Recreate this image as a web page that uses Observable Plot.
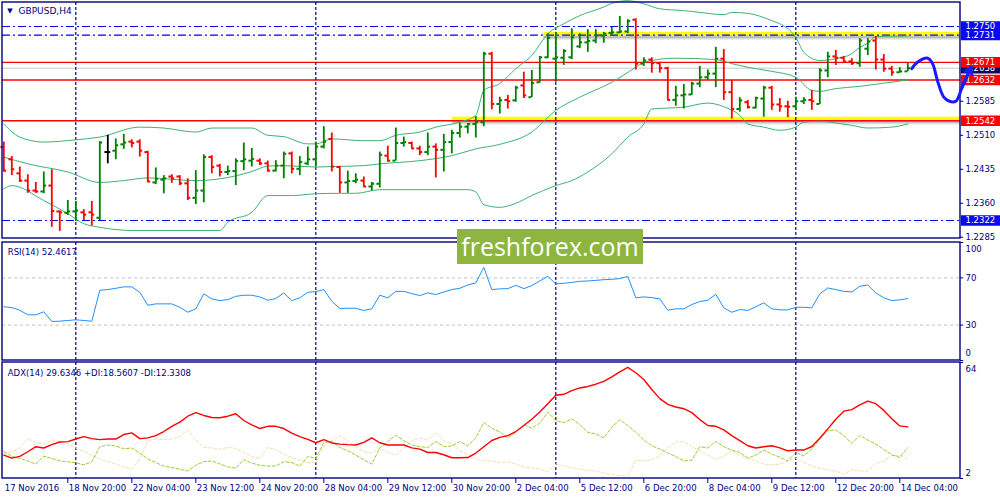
<!DOCTYPE html>
<html><head><meta charset="utf-8">
<script src="https://cdn.jsdelivr.net/npm/d3@7"></script>
<script src="https://cdn.jsdelivr.net/npm/@observablehq/plot@0.6"></script>
<style>
html,body{margin:0;padding:0;background:#fff;overflow:hidden;}
#wrap{position:relative;width:1000px;height:500px;}
#wrap svg{display:block;}
#wm{position:absolute;left:457px;top:229px;width:186px;height:35px;background:#8db540;color:#fff;font-family:"Open Sans",sans-serif;font-size:25px;line-height:35px;text-align:center;}
</style></head><body><div id="wrap"></div>
<script>
// ---------- DATA ----------
const symbolTitle = "GBPUSD,H4";
const rsiTitle = "RSI(14) 52.4617";
const adxTitle = "ADX(14) 29.6346 +DI:18.5607 -DI:12.3308";
const watermark = "freshforex.com";

const open = [1.2484,1.2457,1.2426,1.2410,1.2388,1.2386,1.2399,1.2342,1.2339,1.2342,
1.2340,1.2340,1.2328,1.2473,1.2476,1.2490,1.2496,1.2496,1.2473,1.2406,
1.2412,1.2419,1.2419,1.2404,1.2372,1.2388,1.2462,1.2443,1.2429,1.2431,
1.2453,1.2454,1.2454,1.2448,1.2432,1.2443,1.2470,1.2436,1.2448,1.2457,
1.2485,1.2502,1.2440,1.2406,1.2409,1.2410,1.2397,1.2403,1.2465,1.2454,
1.2493,1.2493,1.2481,1.2473,1.2485,1.2478,1.2495,1.2515,1.2529,1.2535,
1.2539,1.2690,1.2579,1.2588,1.2587,1.2620,1.2594,1.2627,1.2682,1.2679,
1.2681,1.2682,1.2706,1.2715,1.2719,1.2730,1.2736,1.2737,1.2739,1.2765,
1.2668,1.2677,1.2669,1.2658,1.2588,1.2598,1.2600,1.2624,1.2638,1.2646,
1.2679,1.2605,1.2568,1.2583,1.2571,1.2591,1.2615,1.2578,1.2574,1.2574,
1.2585,1.2588,1.2579,1.2653,1.2684,1.2681,1.2673,1.2669,1.2701,1.2719,
1.2677,1.2657,1.2649,1.2651];
const high = [1.2495,1.2463,1.2440,1.2423,1.2406,1.2429,1.2434,1.2343,1.2366,1.2364,
1.2346,1.2364,1.2496,1.2510,1.2502,1.2512,1.2500,1.2500,1.2475,1.2438,
1.2421,1.2423,1.2421,1.2414,1.2432,1.2467,1.2465,1.2446,1.2442,1.2458,
1.2493,1.2481,1.2458,1.2453,1.2454,1.2473,1.2473,1.2463,1.2484,1.2495,
1.2529,1.2515,1.2441,1.2431,1.2425,1.2418,1.2406,1.2473,1.2486,1.2526,
1.2506,1.2495,1.2486,1.2515,1.2491,1.2512,1.2521,1.2537,1.2535,1.2551,
1.2693,1.2693,1.2594,1.2598,1.2618,1.2649,1.2653,1.2684,1.2734,1.2737,
1.2699,1.2745,1.2734,1.2743,1.2743,1.2737,1.2748,1.2772,1.2765,1.2767,
1.2681,1.2681,1.2671,1.2660,1.2618,1.2622,1.2627,1.2662,1.2654,1.2704,
1.2699,1.2631,1.2593,1.2587,1.2594,1.2618,1.2618,1.2591,1.2585,1.2594,
1.2593,1.2609,1.2657,1.2693,1.2697,1.2684,1.2679,1.2723,1.2723,1.2728,
1.2688,1.2662,1.2659,1.2669];
const low = [1.2429,1.2421,1.2406,1.2382,1.2382,1.2381,1.2307,1.2298,1.2333,1.2320,
1.2322,1.2310,1.2322,1.2447,1.2456,1.2479,1.2482,1.2462,1.2406,1.2401,
1.2381,1.2404,1.2399,1.2366,1.2357,1.2361,1.2425,1.2418,1.2421,1.2399,
1.2432,1.2440,1.2443,1.2429,1.2429,1.2414,1.2425,1.2421,1.2443,1.2440,
1.2480,1.2429,1.2382,1.2382,1.2403,1.2396,1.2387,1.2394,1.2451,1.2453,
1.2484,1.2480,1.2465,1.2465,1.2416,1.2429,1.2469,1.2504,1.2513,1.2504,
1.2529,1.2566,1.2557,1.2568,1.2583,1.2591,1.2593,1.2625,1.2679,1.2627,
1.2664,1.2677,1.2701,1.2693,1.2712,1.2713,1.2730,1.2734,1.2734,1.2654,
1.2662,1.2647,1.2647,1.2587,1.2574,1.2568,1.2598,1.2615,1.2631,1.2615,
1.2587,1.2546,1.2561,1.2568,1.2568,1.2550,1.2565,1.2561,1.2549,1.2565,
1.2578,1.2565,1.2578,1.2637,1.2664,1.2668,1.2664,1.2660,1.2686,1.2654,
1.2649,1.2640,1.2647,1.2650];
const close = [1.2432,1.2435,1.2410,1.2388,1.2386,1.2399,1.2343,1.2340,1.2342,1.2344,
1.2335,1.2335,1.2494,1.2473,1.2488,1.2494,1.2493,1.2476,1.2408,1.2414,
1.2415,1.2415,1.2404,1.2372,1.2388,1.2462,1.2440,1.2429,1.2431,1.2453,
1.2457,1.2458,1.2448,1.2432,1.2443,1.2469,1.2436,1.2451,1.2457,1.2485,
1.2496,1.2441,1.2406,1.2409,1.2412,1.2397,1.2403,1.2467,1.2454,1.2493,
1.2495,1.2481,1.2473,1.2485,1.2478,1.2495,1.2515,1.2529,1.2535,1.2539,
1.2690,1.2579,1.2587,1.2585,1.2615,1.2598,1.2625,1.2682,1.2725,1.2682,
1.2696,1.2726,1.2715,1.2718,1.2730,1.2734,1.2737,1.2739,1.2762,1.2668,
1.2675,1.2669,1.2658,1.2588,1.2598,1.2600,1.2624,1.2638,1.2646,1.2679,
1.2605,1.2568,1.2587,1.2572,1.2592,1.2615,1.2578,1.2574,1.2573,1.2585,
1.2588,1.2585,1.2653,1.2684,1.2681,1.2673,1.2669,1.2719,1.2717,1.2677,
1.2657,1.2649,1.2651,1.2658];

// Bollinger bands (bar index, price)
const bbUpperIdx = [0,2,5,9,12,17,20,24,26,31,33,35,38,39,41,45,47,49,52,54,57,59,60,62,64,66,68,70,72,75,76,78,80,82,85,88,90,91,93,96,97,99,100,102,104,106,107,108,109,113];
const bbUpper = [1.2535,1.2506,1.2495,1.2500,1.2506,1.2528,1.2526,1.2517,1.2526,1.2526,1.2510,1.2507,1.2491,1.2491,1.2502,1.2498,1.2498,1.2510,1.2517,1.2528,1.2539,1.2554,1.2609,1.2624,1.2657,1.2686,1.2734,1.2756,1.2774,1.2793,1.2801,1.2807,1.2800,1.2789,1.2785,1.2779,1.2776,1.2781,1.2779,1.2763,1.2756,1.2726,1.2693,1.2675,1.2679,1.2690,1.2704,1.2713,1.2728,1.2729];
const bbMidIdx = [0,3,8,12,15,18,24,27,31,33,35,39,41,45,47,52,56,59,62,66,69,72,76,79,80,84,89,91,93,96,99,101,102,104,107,110,113];
const bbMid = [1.2462,1.2447,1.2429,1.2406,1.2410,1.2416,1.2410,1.2414,1.2430,1.2442,1.2443,1.2440,1.2441,1.2443,1.2447,1.2454,1.2465,1.2480,1.2490,1.2517,1.2565,1.2594,1.2627,1.2660,1.2671,1.2680,1.2677,1.2668,1.2660,1.2651,1.2638,1.2609,1.2607,1.2613,1.2618,1.2625,1.2632];
const bbLowIdx = [0,1,5,8,10,12,16,22,27,28,31,33,36,39,42,44,47,54,58,59,60,62,64,66,69,71,73,76,78,80,81,85,88,90,92,93,95,97,99,100,102,104,106,108,111,113];
const bbLow = [1.2392,1.2399,1.2366,1.2337,1.2315,1.2307,1.2300,1.2300,1.2300,1.2318,1.2340,1.2377,1.2377,1.2381,1.2382,1.2382,1.2390,1.2390,1.2390,1.2385,1.2357,1.2351,1.2360,1.2377,1.2399,1.2410,1.2429,1.2469,1.2506,1.2535,1.2568,1.2572,1.2581,1.2573,1.2554,1.2535,1.2528,1.2521,1.2528,1.2539,1.2541,1.2537,1.2532,1.2526,1.2528,1.2535];

// horizontal levels
const blueLevels = [1.2750, 1.2731, 1.2322];
const redLevels = [1.2671, 1.2632, 1.2542];
const bidPrice = 1.2658;
// highlighted zones (start bar, low, high)
const zoneFrom = [67.5, 56.1];
const zoneLow = [1.2728, 1.2541];
const zoneHigh = [1.2737, 1.2550];

// forecast sketch (bar index, price)
const fcIdx = [113.5, 114.2, 115.5, 116.1, 116.7, 117.5, 118.2, 119.0, 119.8, 120.9];
const fcPrice = [1.2657, 1.2671, 1.2680, 1.2668, 1.2631, 1.2594, 1.2585, 1.2585, 1.2616, 1.2660];

const priceTicks = [1.2285, 1.2360, 1.2435, 1.2510, 1.2585];

const rsi = [45.5,44.9,42.6,38.7,38.7,41.3,33.1,33.3,33.9,34.5,
33.9,33.3,59.5,60.1,61.2,62.4,62.4,57.8,46.8,48.0,
48.0,48.0,45.1,40.9,43.8,56.5,52.2,50.8,51.6,54.4,
55.3,55.3,53.9,51.1,52.5,57.3,50.8,53.1,57.8,58.4,
60.1,50.2,44.1,44.3,44.3,42.4,43.8,55.3,53.1,58.6,
58.6,56.7,55.0,57.3,55.9,58.1,60.1,61.2,64.0,65.7,
78.9,60.1,60.7,60.9,63.7,60.9,63.5,67.4,71.3,64.9,
65.4,66.2,67.1,67.4,67.9,68.5,68.8,69.4,71.3,53.1,
53.9,53.3,52.2,42.6,43.8,43.8,47.4,50.0,51.1,56.1,
44.6,40.9,43.2,42.4,45.5,48.9,43.8,42.9,42.9,45.1,
45.1,44.6,56.5,61.5,60.1,58.6,58.1,62.9,64.0,57.3,
53.1,50.8,51.4,52.5];
const rsiLevels = [30, 70];
const rsiTicks = [0, 30, 70, 100];

const adx = [14.5,12.9,13.8,16.3,19.0,18.3,20.1,21.5,21.7,23.1,
24.4,23.3,22.8,23.1,23.1,25.5,26.4,23.3,23.7,24.9,
27.1,29.9,32.1,35.3,37.2,35.7,34.6,34.5,35.3,36.6,
33.0,30.7,28.7,29.9,29.9,28.7,26.2,24.4,22.9,21.1,
22.8,21.0,20.4,20.1,19.9,21.3,23.7,21.1,19.9,19.9,
19.9,18.4,17.7,15.9,15.9,14.7,13.1,13.1,13.2,15.6,
19.0,22.3,24.0,24.9,27.1,30.3,33.7,37.5,42.0,46.5,
47.0,49.0,50.4,51.2,52.4,53.9,56.3,59.0,61.4,58.5,
54.9,49.6,44.7,41.6,40.2,39.3,37.2,33.5,30.3,29.9,
28.0,24.9,22.2,19.5,18.3,19.0,19.5,18.4,16.8,17.2,
17.2,19.1,23.5,28.5,33.7,38.0,38.8,41.3,43.4,42.0,
38.4,33.9,30.1,29.6];
const plusDI = [16.5,13.8,12.7,11.4,9.7,14.0,12.7,11.4,10.9,10.4,
9.3,10.9,19.0,19.9,19.4,17.9,18.3,15.6,12.4,10.5,
8.6,7.8,7.0,6.0,9.1,11.0,11.4,9.8,8.2,7.5,
12.1,10.2,9.1,8.6,8.7,11.0,10.5,8.6,13.8,12.7,
21.3,21.8,18.6,16.8,14.5,12.0,9.7,18.3,21.8,25.1,
22.2,19.9,19.0,18.6,21.8,19.0,19.4,21.7,19.5,23.7,
31.9,28.9,26.9,23.7,26.7,30.7,28.9,31.6,37.5,33.0,
31.8,33.9,30.8,26.7,25.8,23.7,29.4,33.4,30.3,26.7,
22.6,19.5,17.7,15.6,13.8,11.4,11.8,19.0,18.3,21.8,
19.0,17.2,15.9,12.9,14.5,17.2,15.1,13.4,11.4,15.9,
14.1,17.7,23.1,27.6,28.0,24.9,20.8,24.9,22.6,20.4,
17.5,14.7,13.2,18.5];
const minusDI = [15.1,16.3,18.3,23.1,21.3,20.4,22.6,21.8,20.4,18.3,
16.5,14.5,12.4,11.0,9.7,8.2,7.0,12.4,22.2,23.1,
22.8,23.1,24.4,28.0,22.6,18.6,18.3,17.7,18.6,18.1,
15.9,13.6,12.7,18.6,17.4,15.1,13.2,11.8,10.5,10.5,
19.5,22.2,24.8,22.2,19.0,16.5,15.4,18.3,15.9,14.5,
18.3,22.2,23.7,22.6,26.7,22.2,20.4,16.8,14.7,12.7,
11.4,11.4,10.5,10.9,9.7,8.2,7.7,7.1,5.5,9.7,
8.7,7.8,7.0,6.4,5.9,5.0,4.1,3.5,3.4,11.8,
11.4,12.0,14.0,18.3,21.7,21.7,19.0,16.8,14.5,12.1,
14.1,16.8,14.7,12.5,11.4,9.7,9.3,9.7,11.4,12.9,
10.5,8.7,7.5,6.6,6.0,4.3,6.8,6.0,6.0,10.0,
11.4,14.3,14.3,12.3];
const adxTicks = [2, 64];

const separators = [9, 39, 69, 99];
const xLabelIdx = [0,8,16,24,32,40,48,56,64,72,80,88,96,104,112];
const xLabels = ["17 Nov 2016","18 Nov 20:00","22 Nov 04:00","23 Nov 12:00","24 Nov 20:00","28 Nov 04:00","29 Nov 12:00","30 Nov 20:00","2 Dec 04:00","5 Dec 12:00","6 Dec 20:00","8 Dec 04:00","9 Dec 12:00","12 Dec 20:00","14 Dec 04:00"];

// ---------- VIEW SETTINGS ----------
const FONT = "DejaVu Sans, Verdana, sans-serif";
const NAVY = "#000080";
const X_MIN = -0.1625, X_MAX = 124.5875, AXIS_I = 119.5875;
const TICK = 0.36, TICK_OUT = 0.4;
const PRICE_DOMAIN = [1.228229, 1.280292];
const baseStyle = {fontFamily: FONT, fontSize: "8.5px", color: NAVY, background: "transparent", overflow: "hidden"};

const bars = open.map((o, i) => ({i, o, h: high[i], l: low[i], c: close[i]}));
const barColor = d => d.c > d.o ? "#008000" : d.c < d.o ? "#ff0000" : "#000000";
const pts = (xs, ys) => xs.map((x, k) => ({x, y: ys[k]}));
const zones = zoneFrom.map((f, k) => ({from: f, lo: zoneLow[k], hi: zoneHigh[k]}));
const fc = pts(fcIdx, fcPrice);
const tags = [
  ...blueLevels.map(p => ({p, bg: "#0a0af0"})),
  {p: bidPrice, bg: "#0c0c5e"},
  ...redLevels.map(p => ({p, bg: "#ff0000"}))
];

const frameRect = (y0, y1) => Plot.rect([0], {x1: X_MIN, x2: AXIS_I, y1: y0, y2: y1, fill: "none", stroke: NAVY, strokeWidth: 1.4});

// ---------- MAIN PANEL ----------
const main = Plot.plot({
  width: 1000, height: 240, marginLeft: 2, marginRight: 0, marginTop: 2, marginBottom: 2,
  x: {domain: [X_MIN, X_MAX], axis: null},
  y: {domain: PRICE_DOMAIN, axis: null},
  color: {type: "identity"},
  style: baseStyle,
  marks: [
    Plot.rect(zones, {x1: "from", x2: AXIS_I, y1: "lo", y2: "hi", fill: "url(#zshade)", dy: 4.5}),
    Plot.rect(zones, {x1: "from", x2: AXIS_I, y1: "lo", y2: "hi", fill: "#ffff00"}),
    Plot.ruleY([bidPrice], {x1: X_MIN, x2: AXIS_I, stroke: "#c8c8c8"}),
    Plot.ruleY(redLevels, {x1: X_MIN, x2: AXIS_I, stroke: "#ff0000", strokeWidth: 1.3}),
    Plot.ruleY(blueLevels, {x1: X_MIN, x2: AXIS_I, stroke: "#0000ff", strokeWidth: 1.1, strokeDasharray: "8,3,2,3"}),
    Plot.ruleX(separators, {stroke: NAVY, strokeWidth: 1.2, strokeDasharray: "3,2"}),
    Plot.line(pts(bbUpperIdx, bbUpper), {x: "x", y: "y", stroke: "#3cb371", strokeWidth: 1, curve: "monotone-x"}),
    Plot.line(pts(bbMidIdx, bbMid), {x: "x", y: "y", stroke: "#3cb371", strokeWidth: 1, curve: "monotone-x"}),
    Plot.line(pts(bbLowIdx, bbLow), {x: "x", y: "y", stroke: "#3cb371", strokeWidth: 1, curve: "monotone-x"}),
    Plot.ruleX(bars, {x: "i", y1: "l", y2: "h", stroke: barColor, strokeWidth: 1.8}),
    Plot.ruleY(bars, {y: "o", x1: d => d.i - TICK, x2: "i", stroke: barColor, strokeWidth: 2}),
    Plot.ruleY(bars, {y: "c", x1: "i", x2: d => d.i + TICK, stroke: barColor, strokeWidth: 2}),
    frameRect(PRICE_DOMAIN[0], PRICE_DOMAIN[1]),
    Plot.ruleY(priceTicks, {x1: AXIS_I, x2: AXIS_I + TICK_OUT, stroke: NAVY}),
    Plot.text(priceTicks, {x: AXIS_I, y: d => d, text: d => d.toFixed(4), dx: 5, textAnchor: "start", fill: NAVY}),
    ...tags.flatMap(t => [
      Plot.ruleY([t], {y: "p", x1: AXIS_I + 0.12, x2: X_MAX, stroke: "bg", strokeWidth: 10.5}),
      Plot.text([t], {x: AXIS_I, y: "p", text: d => d.p.toFixed(4), dx: 5, textAnchor: "start", fill: "#ffffff"})
    ]),
    Plot.line(fc, {x: "x", y: "y", stroke: "#1a1aff", strokeWidth: 3, curve: "catmull-rom"}),
    Plot.arrow([{a: fc[fc.length - 2], b: fc[fc.length - 1]}], {x1: d => d.a.x, y1: d => d.a.y, x2: d => d.b.x, y2: d => d.b.y, stroke: "#1a1aff", strokeWidth: 3, headLength: 11}),
    Plot.text(["▼"], {frameAnchor: "top-left", dx: 7.5, dy: 8.5, fontSize: 7, textAnchor: "middle", lineAnchor: "middle", fill: NAVY}),
    Plot.text([symbolTitle], {frameAnchor: "top-left", dx: 16, dy: 9, fontSize: 9, textAnchor: "start", lineAnchor: "middle", fill: NAVY})
  ]
});
d3.select(main).insert("defs", ":first-child").html(
  '<linearGradient id="zshade" x1="0" y1="0" x2="0" y2="1"><stop offset="0" stop-color="#444" stop-opacity="0.55"/><stop offset="1" stop-color="#888" stop-opacity="0"/></linearGradient>');

// ---------- RSI PANEL ----------
const rsiPlot = Plot.plot({
  width: 1000, height: 121, marginLeft: 2, marginRight: 0, marginTop: 2, marginBottom: 1,
  x: {domain: [X_MIN, X_MAX], axis: null},
  y: {domain: [0, 100], axis: null},
  style: baseStyle,
  marks: [
    Plot.ruleY(rsiLevels, {x1: X_MIN, x2: AXIS_I, stroke: "#c0c0c0", strokeDasharray: "3,3"}),
    Plot.ruleX(separators, {stroke: NAVY, strokeWidth: 1.2, strokeDasharray: "3,2"}),
    Plot.line(rsi, {x: (d, i) => i, y: d => d, stroke: "#1e90ff", strokeWidth: 1}),
    frameRect(0, 100),
    Plot.ruleY(rsiTicks, {x1: AXIS_I, x2: AXIS_I + TICK_OUT, stroke: NAVY}),
    Plot.text(rsiTicks.filter(v => v > 0 && v < 100), {x: AXIS_I, y: d => d, text: d => String(d), dx: 5, textAnchor: "start", fill: NAVY}),
    Plot.text([100], {x: AXIS_I, y: d => d, text: d => String(d), dx: 5, dy: 7, textAnchor: "start", fill: NAVY}),
    Plot.text([0], {x: AXIS_I, y: d => d, text: d => String(d), dx: 5, dy: -7, textAnchor: "start", fill: NAVY}),
    Plot.text([rsiTitle], {frameAnchor: "top-left", dx: 5.3, dy: 9.8, textAnchor: "start", lineAnchor: "middle", fill: NAVY})
  ]
});

// ---------- ADX PANEL ----------
const adxPlot = Plot.plot({
  width: 1000, height: 139, marginLeft: 2, marginRight: 0, marginTop: 1, marginBottom: 22,
  x: {domain: [X_MIN, X_MAX], axis: "bottom", ticks: xLabelIdx.slice(1), tickSize: 5, tickFormat: () => "", label: null},
  y: {domain: [2, 64], axis: null},
  style: baseStyle,
  marks: [
    Plot.ruleX(separators, {stroke: NAVY, strokeWidth: 1.2, strokeDasharray: "3,2"}),
    Plot.line(minusDI, {x: (d, i) => i, y: d => d, stroke: "#f5deb3", strokeWidth: 1, strokeDasharray: "3,2"}),
    Plot.line(plusDI, {x: (d, i) => i, y: d => d, stroke: "#9acd32", strokeWidth: 1, strokeDasharray: "3,2"}),
    Plot.line(adx, {x: (d, i) => i, y: d => d, stroke: "#ff0000", strokeWidth: 1.4}),
    frameRect(2, 64),
    Plot.ruleY(adxTicks, {x1: AXIS_I, x2: AXIS_I + TICK_OUT, stroke: NAVY}),
    Plot.text([64], {x: AXIS_I, y: d => d, text: d => String(d), dx: 5, dy: 7, textAnchor: "start", fill: NAVY}),
    Plot.text([2], {x: AXIS_I, y: d => d, text: d => String(d), dx: 5, dy: -5, textAnchor: "start", fill: NAVY}),
    Plot.text([adxTitle], {frameAnchor: "top-left", dx: 5.3, dy: 10.3, textAnchor: "start", lineAnchor: "middle", fill: NAVY}),
    Plot.text(xLabelIdx, {x: d => d, text: (d, k) => xLabels[k], frameAnchor: "bottom", dy: 10, dx: 1, textAnchor: "start", lineAnchor: "middle", fill: NAVY})
  ]
});

const wrap = document.getElementById("wrap");
wrap.append(main, rsiPlot, adxPlot);
const wm = document.createElement("div");
wm.id = "wm";
wm.textContent = watermark;
wrap.append(wm);
</script></body></html>
